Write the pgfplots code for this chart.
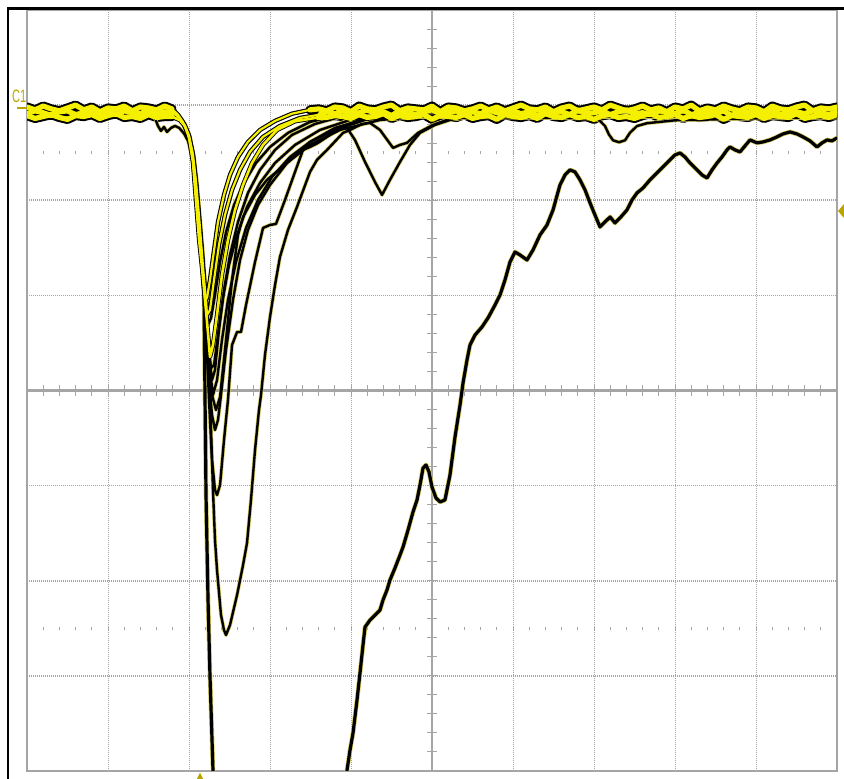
\documentclass[border=0pt]{standalone}
\usepackage{pgfplots}
\usepackage{pgfplotstable}
\pgfplotsset{compat=1.18}
\usepackage{fontspec}
\setsansfont{Liberation Sans}
\definecolor{scopeyel}{RGB}{245,240,0}
\definecolor{halo}{RGB}{215,205,100}
\definecolor{mk}{RGB}{185,165,0}
\definecolor{grat}{RGB}{165,165,165}

% ---- traces, in screen divisions (x: 0..10, y: -4..4) ----
\pgfplotstableread{
x y
0 2.98
0.1 2.95
0.2 2.99
0.3 2.96
0.4 2.94
0.5 2.97
0.6 3.00
0.7 2.95
0.8 2.98
0.9 2.93
1.0 2.97
1.1 2.96
1.2 2.99
1.3 2.94
1.4 2.98
1.5 2.97
1.6 2.95
1.7 2.99
1.79 2.96
1.864 2.90
1.926 2.82
1.988 2.70
2.037 2.52
2.074 2.26
2.111 1.90
2.136 1.63
2.160 1.37
2.185 1.11
2.198 0.952
2.222 0.973
2.259 1.162
2.296 1.393
2.358 1.772
2.432 2.056
2.506 2.266
2.605 2.455
2.728 2.613
2.877 2.739
3.062 2.834
3.272 2.91
3.494 2.95
3.6 2.96
3.7 2.94
3.8 2.98
3.9 2.97
4.0 2.93
4.1 2.99
4.2 2.96
4.3 2.95
4.4 2.98
4.5 3.00
4.6 2.94
4.7 2.97
4.8 2.96
4.9 2.95
5.0 2.99
5.1 2.93
5.2 2.98
5.3 2.97
5.4 2.94
5.5 2.96
5.6 2.99
5.7 2.95
5.8 2.98
5.9 2.94
6.0 2.97
6.1 3.00
6.2 2.96
6.3 2.95
6.4 2.98
6.5 2.93
6.6 2.97
6.7 2.99
6.8 2.94
6.9 2.96
7.0 2.98
7.1 2.95
7.2 3.00
7.3 2.97
7.4 2.94
7.5 2.96
7.6 2.99
7.7 2.95
7.8 2.97
7.9 2.93
8.0 2.98
8.1 2.96
8.2 3.00
8.3 2.94
8.4 2.97
8.5 2.95
8.6 2.99
8.7 2.96
8.8 2.94
8.9 2.98
9.0 2.97
9.1 2.93
9.2 2.99
9.3 2.96
9.4 2.95
9.5 2.98
9.6 3.00
9.7 2.94
9.8 2.97
9.9 2.96
10.0 2.98
}\tabFa

\pgfplotstableread{
x y
0 2.91
0.1 2.94
0.2 2.92
0.3 2.89
0.4 2.93
0.5 2.94
0.6 2.90
0.7 2.92
0.8 2.95
0.9 2.91
1.0 2.93
1.1 2.90
1.2 2.94
1.3 2.92
1.4 2.91
1.5 2.95
1.6 2.90
1.7 2.93
1.80 2.92
1.877 2.87
1.938 2.80
2.0 2.68
2.049 2.48
2.086 2.20
2.123 1.84
2.148 1.57
2.173 1.30
2.198 1.05
2.210 0.952
2.222 0.794
2.259 0.846
2.309 1.162
2.370 1.530
2.444 1.845
2.531 2.109
2.630 2.319
2.753 2.508
2.914 2.666
3.123 2.781
3.370 2.865
3.617 2.90
3.7 2.93
3.8 2.91
3.9 2.94
4.0 2.90
4.1 2.92
4.2 2.95
4.3 2.91
4.4 2.93
4.5 2.89
4.6 2.94
4.7 2.92
4.8 2.90
4.9 2.93
5.0 2.95
5.1 2.91
5.2 2.92
5.3 2.94
5.4 2.90
5.5 2.93
5.6 2.91
5.7 2.95
5.8 2.92
5.9 2.90
6.0 2.94
6.1 2.91
6.2 2.93
6.3 2.89
6.4 2.94
6.5 2.92
6.6 2.93
6.7 2.90
6.8 2.95
6.9 2.91
7.0 2.92
7.1 2.94
7.2 2.90
7.3 2.93
7.4 2.95
7.5 2.91
7.6 2.92
7.7 2.90
7.8 2.94
7.9 2.93
8.0 2.91
8.1 2.95
8.2 2.90
8.3 2.92
8.4 2.93
8.5 2.91
8.6 2.94
8.7 2.89
8.8 2.93
8.9 2.92
9.0 2.94
9.1 2.91
9.2 2.95
9.3 2.90
9.4 2.92
9.5 2.93
9.6 2.91
9.7 2.94
9.8 2.92
9.9 2.90
10.0 2.93
}\tabFb

\pgfplotstableread{
x y
0 2.89
0.1 2.86
0.2 2.88
0.3 2.90
0.4 2.87
0.5 2.85
0.6 2.89
0.7 2.88
0.8 2.90
0.9 2.86
1.0 2.89
1.1 2.91
1.2 2.87
1.3 2.88
1.4 2.86
1.5 2.90
1.6 2.87
1.7 2.88
1.79 2.88
1.889 2.84
1.951 2.78
2.0 2.66
2.049 2.40
2.086 2.0
2.123 1.60
2.160 1.30
2.198 0.95
2.235 0.60
2.259 0.352
2.296 0.478
2.346 0.794
2.407 1.215
2.481 1.583
2.568 1.898
2.667 2.161
2.778 2.392
2.914 2.582
3.086 2.739
3.309 2.83
3.593 2.87
3.7 2.87
3.8 2.89
3.9 2.88
4.0 2.86
4.1 2.90
4.2 2.87
4.3 2.88
4.4 2.91
4.5 2.86
4.6 2.89
4.7 2.87
4.8 2.88
4.9 2.90
5.0 2.85
5.1 2.89
5.2 2.88
5.3 2.87
5.4 2.90
5.5 2.86
5.6 2.88
5.7 2.89
5.8 2.85
5.9 2.90
6.0 2.88
6.1 2.87
6.2 2.89
6.3 2.86
6.4 2.91
6.5 2.88
6.6 2.87
6.7 2.90
6.8 2.87
6.9 2.88
7.0 2.85
7.1 2.89
7.2 2.90
7.3 2.87
7.4 2.88
7.5 2.86
7.6 2.89
7.7 2.91
7.8 2.87
7.9 2.88
8.0 2.90
8.1 2.86
8.2 2.89
8.3 2.87
8.4 2.88
8.5 2.90
8.6 2.85
8.7 2.89
8.8 2.88
8.9 2.87
9.0 2.90
9.1 2.86
9.2 2.89
9.3 2.88
9.4 2.87
9.5 2.91
9.6 2.86
9.7 2.88
9.8 2.89
9.9 2.87
10.0 2.90
}\tabFc

\pgfplotstableread{
x y
0 2.90
1.79 2.90
1.87 2.88
1.93 2.81
1.99 2.69
2.04 2.50
2.08 2.22
2.12 1.85
2.15 1.55
2.18 1.25
2.210 0.846
2.247 0.373
2.284 0.110
2.321 0.216
2.370 0.636
2.432 1.057
2.506 1.425
2.605 1.772
2.728 2.077
2.877 2.319
3.062 2.529
3.272 2.687
3.556 2.802
3.864 2.876
5.0 2.88
7.0 2.86
7.074 2.834
7.136 2.78
7.185 2.69
7.235 2.63
7.309 2.61
7.383 2.63
7.444 2.71
7.531 2.78
7.654 2.81
8.0 2.84
9.0 2.86
10 2.87
}\tabFd

\pgfplotstableread{
x y
0 2.90
1.81 2.90
1.88 2.87
1.94 2.80
2.0 2.68
2.05 2.48
2.09 2.20
2.13 1.82
2.16 1.52
2.19 1.20
2.222 0.636
2.259 0.216
2.296 -0.047
2.346 0.110
2.407 0.531
2.481 0.952
2.580 1.351
2.704 1.709
2.852 2.003
3.025 2.245
3.247 2.455
3.494 2.613
3.802 2.739
4.173 2.844
4.6 2.88
10 2.88
}\tabFe

\pgfplotstableread{
x y
0 2.90
1.82 2.90
1.89 2.87
1.95 2.80
2.01 2.67
2.06 2.46
2.10 2.16
2.14 1.76
2.17 1.45
2.20 1.10
2.235 0.216
2.284 -0.258
2.321 -0.415
2.358 -0.310
2.395 -0.047
2.457 0.426
2.543 0.952
2.630 1.372
2.728 1.688
2.852 1.950
3.0 2.161
3.210 2.392
3.494 2.613
3.802 2.760
4.173 2.855
4.6 2.89
10 2.89
}\tabFf

\pgfplotstableread{
x y
0 2.90
1.80 2.90
1.87 2.88
1.93 2.81
1.99 2.69
2.04 2.50
2.08 2.22
2.12 1.85
2.15 1.55
2.18 1.25
2.21 0.90
2.235 0.689
2.272 0.762
2.321 1.004
2.383 1.351
2.457 1.666
2.556 1.950
2.679 2.182
2.827 2.392
3.0 2.560
3.222 2.708
3.494 2.823
3.802 2.886
10 2.90
}\tabGa

\pgfplotstableread{
x y
0 2.90
1.81 2.90
1.88 2.87
1.94 2.80
2.0 2.68
2.05 2.48
2.09 2.20
2.13 1.82
2.16 1.52
2.19 1.20
2.21 0.80
2.247 0.426
2.272 0.236
2.309 0.268
2.358 0.583
2.420 0.973
2.494 1.320
2.593 1.635
2.716 1.929
2.877 2.182
3.062 2.392
3.309 2.582
3.617 2.739
3.988 2.844
4.358 2.876
10 2.90
}\tabGb

\pgfplotstableread{
x y
0 2.90
1.82 2.90
1.89 2.87
1.95 2.80
2.01 2.67
2.06 2.46
2.10 2.16
2.14 1.76
2.17 1.45
2.20 1.05
2.247 0.216
2.284 -0.047
2.333 -0.205
2.383 -0.068
2.457 0.531
2.531 1.162
2.605 1.635
2.667 1.824
2.815 2.056
2.963 2.214
3.210 2.392
3.494 2.582
3.864 2.739
4.358 2.844
4.852 2.876
10 2.90
}\tabGc

\pgfplotstableread{
x y
0 2.90
1.80 2.90
1.87 2.87
1.93 2.80
1.99 2.68
2.04 2.48
2.08 2.19
2.12 1.80
2.15 1.50
2.18 1.15
2.210 0.636
2.247 -0.100
2.284 -0.731
2.321 -1.046
2.346 -1.099
2.383 -0.994
2.432 -0.521
2.481 -0.100
2.531 0.478
2.593 0.615
2.642 0.615
2.704 0.899
2.815 1.351
2.914 1.709
3.0 1.740
3.074 1.751
3.185 2.003
3.309 2.298
3.407 2.529
3.494 2.560
3.593 2.603
3.741 2.687
3.864 2.760
3.951 2.760
4.049 2.634
4.173 2.403
4.296 2.192
4.383 2.056
4.481 2.214
4.605 2.403
4.728 2.582
4.852 2.708
5.037 2.792
5.222 2.844
5.469 2.876
10 2.88
}\tabS

\pgfplotstableread{
x y
0 2.90
1.50 2.90
1.519 2.897
1.580 2.865
1.617 2.781
1.654 2.729
1.691 2.771
1.728 2.718
1.778 2.760
1.827 2.781
1.88 2.76
1.94 2.70
1.99 2.62
2.04 2.45
2.08 2.17
2.12 1.78
2.15 1.47
2.18 1.15
2.198 0.952
2.235 0.320
2.272 -0.415
2.296 -1.046
2.321 -1.572
2.346 -1.888
2.395 -2.361
2.432 -2.519
2.457 -2.571
2.506 -2.466
2.593 -2.150
2.667 -1.835
2.716 -1.604
2.765 -1.151
2.815 -0.626
2.864 -0.205
2.889 -0.047
2.938 0.373
3.0 0.773
3.062 1.109
3.123 1.404
3.222 1.688
3.333 1.929
3.494 2.298
3.580 2.424
3.704 2.529
3.901 2.708
3.988 2.739
4.136 2.802
4.235 2.813
4.358 2.739
4.519 2.550
4.605 2.582
4.691 2.603
4.827 2.708
5.012 2.792
5.222 2.855
5.5 2.88
10 2.88
}\tabT

\pgfplotstableread{
x y
0 2.90
1.80 2.90
1.87 2.87
1.93 2.80
1.99 2.68
2.04 2.48
2.08 2.18
2.12 1.80
2.15 1.48
2.185 1.00
2.198 -0.100
2.210 -1.100
2.235 -2.203
2.259 -3.000
2.296 -3.990
2.321 -4.83
3.864 -5.36
3.951 -3.990
3.988 -3.780
4.025 -3.601
4.074 -3.255
4.111 -2.971
4.148 -2.676
4.173 -2.487
4.235 -2.413
4.296 -2.361
4.358 -2.308
4.395 -2.203
4.444 -2.098
4.481 -1.993
4.543 -1.866
4.605 -1.730
4.642 -1.646
4.704 -1.467
4.765 -1.278
4.815 -1.151
4.852 -0.994
4.889 -0.815
4.926 -0.783
4.963 -0.857
5.000 -1.015
5.049 -1.130
5.099 -1.172
5.160 -1.151
5.222 -0.889
5.284 -0.489
5.346 -0.152
5.383 0.079
5.432 0.320
5.469 0.478
5.531 0.583
5.617 0.668
5.691 0.762
5.778 0.899
5.840 1.004
5.901 1.162
5.963 1.351
6.025 1.456
6.086 1.425
6.173 1.372
6.247 1.477
6.333 1.635
6.420 1.740
6.494 1.898
6.580 2.161
6.642 2.266
6.704 2.319
6.765 2.298
6.827 2.214
6.889 2.109
6.951 1.972
7.012 1.845
7.074 1.719
7.136 1.772
7.198 1.824
7.259 1.761
7.321 1.814
7.407 1.898
7.469 2.003
7.531 2.077
7.605 2.129
7.691 2.214
7.778 2.287
7.852 2.350
7.938 2.424
8.000 2.476
8.062 2.497
8.123 2.455
8.185 2.392
8.272 2.319
8.333 2.266
8.395 2.234
8.457 2.319
8.519 2.392
8.580 2.455
8.642 2.529
8.679 2.560
8.741 2.529
8.802 2.508
8.864 2.571
8.926 2.634
9.012 2.603
9.086 2.613
9.173 2.634
9.259 2.666
9.333 2.697
9.420 2.718
9.506 2.697
9.580 2.666
9.667 2.624
9.753 2.560
9.815 2.603
9.877 2.634
9.938 2.624
10.0 2.655
}\tabD

\begin{document}
\begin{tikzpicture}
\path[use as bounding box] (0,0) rectangle (422pt,389.5pt);
% ---- graticule (drawn first, behind the traces) ----
\begin{scope}[shift={(13.5pt,194.25pt)}, x=40.5pt, y=47.5625pt]
  \foreach \i in {1,2,3,4,6,7,8,9}
    \draw[grat, line width=0.5pt, dash pattern=on 0.5pt off 0.5pt] (\i,-4) -- (\i,4);
  \foreach \j in {-3,-2,-1,1,2,3}
    \draw[grat, line width=0.8pt, dash pattern=on 0.5pt off 0.5pt] (0,\j) -- (10,\j);
  \draw[grat, line width=1.2pt] (0,0) -- (10,0);
  \draw[grat, line width=1.2pt] (5,-4) -- (5,4);
  \foreach \k in {1,...,49}
    \draw[grat, line width=0.5pt] (\k/5,-0.055) -- (\k/5,0.055);
  \foreach \k in {-19,...,19}
    \draw[grat, line width=0.5pt] (4.94,\k/5) -- (5.06,\k/5);
  \foreach \k in {1,...,49}{
    \draw[grat, line width=0.5pt] (\k/5,2.485) -- (\k/5,2.52);
    \draw[grat, line width=0.5pt] (\k/5,-2.52) -- (\k/5,-2.485);}
  \draw[grat, line width=1.2pt] (0,-4) rectangle (10,4);
\end{scope}
% ---- traces ----
\begin{axis}[at={(13.5pt,4pt)}, anchor=south west, width=405pt, height=380.5pt,
  scale only axis, xmin=0, xmax=10, ymin=-4, ymax=4, ticks=none,
  axis line style={draw=none}, clip=true, unbounded coords=jump,
  every axis plot/.append style={no markers, line join=round, line cap=round},
  bandk/.style={black, line width=4.6pt},
  bandy/.style={scopeyel, line width=2.6pt},
  thalo/.style={halo, line width=1.9pt},
  tblk/.style={black, line width=1.2pt}]
  % baseline band: black outline (left and right of the pulse)
  \addplot[bandk, restrict x to domain=0:1.80] table {\tabFa};
  \addplot[bandk, restrict x to domain=3.49:10] table {\tabFa};
  \addplot[bandk, restrict x to domain=0:1.80] table {\tabFb};
  \addplot[bandk, restrict x to domain=3.61:10] table {\tabFb};
  \addplot[bandk, restrict x to domain=0:1.80] table {\tabFc};
  \addplot[bandk, restrict x to domain=3.59:10] table {\tabFc};
  % single traces: faint halo
  \addplot[thalo] table {\tabFd};
  \addplot[thalo] table {\tabFe};
  \addplot[thalo] table {\tabFf};
  \addplot[thalo] table {\tabGa};
  \addplot[thalo] table {\tabGb};
  \addplot[thalo] table {\tabGc};
  \addplot[thalo] table {\tabS};
  \addplot[thalo] table {\tabT};
  \addplot[halo, line width=2.3pt] table {\tabD};
  % single traces: black
  \addplot[tblk] table {\tabFd};
  \addplot[tblk] table {\tabFe};
  \addplot[tblk] table {\tabFf};
  \addplot[tblk] table {\tabGa};
  \addplot[tblk] table {\tabGb};
  \addplot[tblk] table {\tabGc};
  \addplot[tblk] table {\tabS};
  \addplot[tblk] table {\tabT};
  \addplot[black, line width=1.6pt] table {\tabD};
  % the three brightest traces through the pulse
  \addplot[black, line width=2.2pt] table {\tabFa};
  \addplot[black, line width=2.2pt] table {\tabFb};
  \addplot[black, line width=2.2pt] table {\tabFc};
  \addplot[scopeyel, line width=1.1pt] table {\tabFa};
  \addplot[scopeyel, line width=1.1pt] table {\tabFb};
  \addplot[scopeyel, line width=1.3pt] table {\tabFc};
  % baseline band: yellow core
  \addplot[bandy, restrict x to domain=0:1.80] table {\tabFa};
  \addplot[bandy, restrict x to domain=3.49:10] table {\tabFa};
  \addplot[bandy, restrict x to domain=0:1.80] table {\tabFb};
  \addplot[bandy, restrict x to domain=3.61:10] table {\tabFb};
  \addplot[bandy, restrict x to domain=0:1.80] table {\tabFc};
  \addplot[bandy, restrict x to domain=3.59:10] table {\tabFc};
\end{axis}
% ---- frame and scope markers ----
\draw[black, line width=1.3pt] (4pt,0) -- (4pt,385.25pt) -- (422pt,385.25pt);
\node[mk, font=\sffamily\fontsize{9}{9}\selectfont, inner sep=0pt] at (9.6pt,341.5pt) {\scalebox{0.62}[1]{C1}};
\draw[mk, line width=1.2pt] (8.5pt,335.5pt) -- (13.5pt,335.5pt);
\fill[mk] (419pt,284pt) -- (422pt,287.5pt) -- (422pt,280.5pt) -- cycle;
\fill[mk] (100pt,3.2pt) -- (101.6pt,0pt) -- (98.4pt,0pt) -- cycle;
\end{tikzpicture}
\end{document}
